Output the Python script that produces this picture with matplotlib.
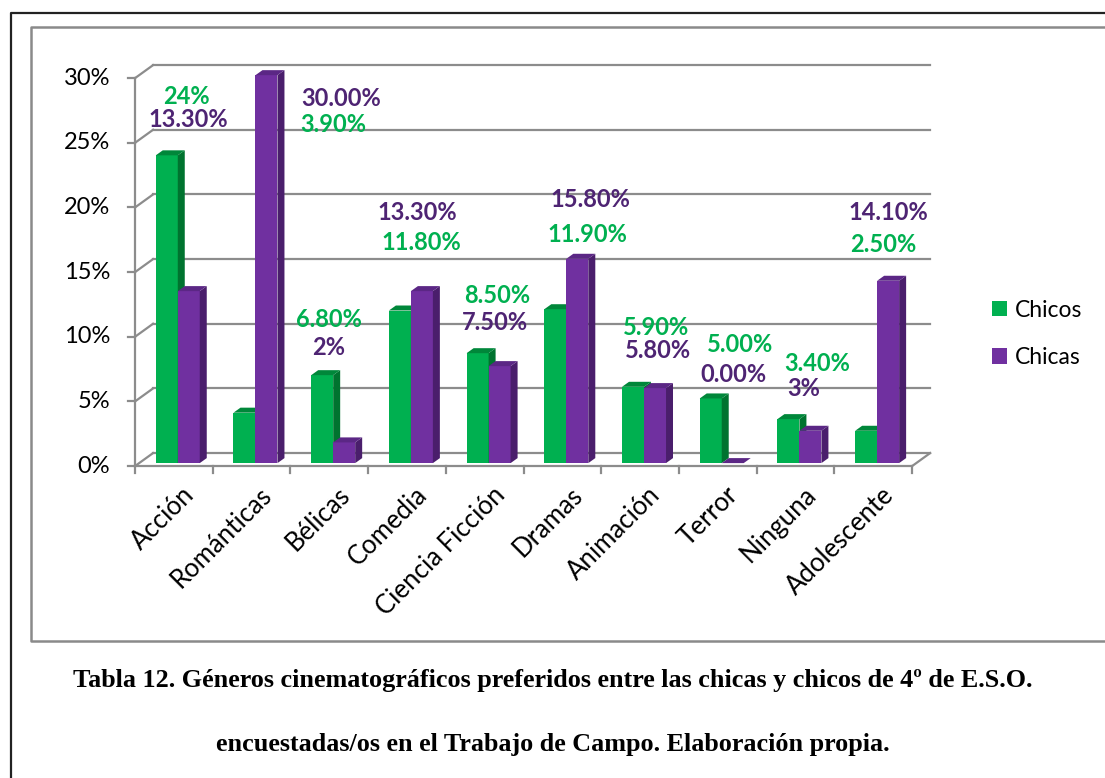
import matplotlib
matplotlib.use("Agg")
import matplotlib.pyplot as plt
from matplotlib.patches import Polygon, Patch
from matplotlib.lines import Line2D

plt.rcParams['font.family'] = ['Lato', 'DejaVu Sans']

# data
generos = ['Acción', 'Románticas', 'Bélicas', 'Comedia', 'Ciencia Ficción',
           'Dramas', 'Animación', 'Terror', 'Ninguna', 'Adolescente']
chicos = [23.8, 3.9, 6.8, 11.8, 8.5, 11.9, 5.9, 5.0, 3.4, 2.5]
chicas = [13.3, 30.0, 1.6, 13.3, 7.5, 15.8, 5.8, 0.0, 2.5, 14.1]
chicos_txt = ['24%', '3.90%', '6.80%', '11.80%', '8.50%', '11.90%', '5.90%', '5.00%', '3.40%', '2.50%']
chicas_txt = ['13.30%', '30.00%', '2%', '13.30%', '7.50%', '15.80%', '5.80%', '0.00%', '3%', '14.10%']
yticks = [0, 5, 10, 15, 20, 25, 30]

# where excel dropped the data labels (x in categories, y in %)
chicos_lab_pos = [(0.66, 28.6), (2.55, 26.4), (2.49, 11.3), (3.68, 17.3), (4.66, 13.2),
                  (5.82, 17.9), (6.7, 10.7), (7.78, 9.4), (8.78, 7.9), (9.63, 17.1)]
chicas_lab_pos = [(0.68, 26.8), (2.65, 28.4), (2.49, 9.2), (3.63, 19.6), (4.63, 11.1),
                  (5.86, 20.6), (6.73, 8.9), (7.7, 7.1), (8.6, 6.0), (9.69, 19.6)]

verde, verde_lado, verde_top = '#00B050', '#00732F', '#00873A'
morado, morado_lado, morado_top = '#7030A0', '#4A1E6C', '#5B2785'
verde_lab, morado_lab = '#00B050', '#4E2473'
gris = '#8C8C8C'

fig = plt.figure(figsize=(11.05, 7.78), dpi=100)
# axes placed so that category 0..10 -> 135..912 px and 0..30% -> 466..78 px
ax = fig.add_axes([0.1011, 0.376, 0.7595, 0.5485])
ax.set_xlim(-0.3, 10.5)
ax.set_ylim(-1.5, 31.5)
ax.axis('off')

# 3d offsets
wx, wy = 0.232, 1.005      # back wall
ox, oy = 0.05, 0.23        # plane of bar fronts
dx, dy = 0.09, 0.387       # bar depth
bw = 0.283

# walls and floor
for v in yticks:
    ax.plot([wx, 10 + wx], [v + wy, v + wy], color=gris, lw=1.6, zorder=1)
    ax.plot([0, wx], [v, v + wy], color=gris, lw=1.6, zorder=1)
    ax.plot([-0.09, 0], [v, v], color=gris, lw=1.6, zorder=1)
    ax.text(-0.32, v, f'{v}%', ha='right', va='center', fontsize=17, color='black')
ax.plot([0, 0], [0, 30], color=gris, lw=1.6, zorder=1)
ax.plot([0, 10], [0, 0], color=gris, lw=1.6, zorder=1)
ax.plot([10, 10 + wx], [0, wy], color=gris, lw=1.6, zorder=1)
for i in range(11):
    ax.plot([i, i], [0, -0.54], color=gris, lw=1.6, zorder=1)


def barra(x0, h, c_front, c_side, c_top, z):
    y0 = oy
    ax.add_patch(Polygon([(x0, y0), (x0 + bw, y0), (x0 + bw, y0 + h), (x0, y0 + h)],
                         closed=True, fc=c_front, ec='none', zorder=z))
    ax.add_patch(Polygon([(x0 + bw, y0), (x0 + bw + dx, y0 + dy), (x0 + bw + dx, y0 + h + dy),
                          (x0 + bw, y0 + h)], closed=True, fc=c_side, ec='none', zorder=z))
    ax.add_patch(Polygon([(x0, y0 + h), (x0 + bw, y0 + h), (x0 + bw + dx, y0 + h + dy),
                          (x0 + dx, y0 + h + dy)], closed=True, fc=c_top, ec='none', zorder=z))


z = 2
for i in range(len(generos)):
    c = i + 0.5 + ox
    barra(c - bw, chicos[i], verde, verde_lado, verde_top, z)
    barra(c, chicas[i], morado, morado_lado, morado_top, z + 1)
    z += 2

for i in range(len(generos)):
    ax.text(*chicos_lab_pos[i], chicos_txt[i], ha='center', va='center', fontsize=17,
            fontweight='bold', color=verde_lab, zorder=40)
    ax.text(*chicas_lab_pos[i], chicas_txt[i], ha='center', va='center', fontsize=17,
            fontweight='bold', color=morado_lab, zorder=40)
    ax.text(i + 0.6, -1.25, generos[i], rotation=45, ha='right', va='top',
            rotation_mode='anchor', fontsize=18.5, color='black')

handles = [Patch(fc=verde, ec='none'), Patch(fc=morado, ec='none')]
fig.legend(handles, ['Chicos', 'Chicas'], loc='center left', bbox_to_anchor=(0.887, 0.571),
           frameon=False, fontsize=16.5, handlelength=0.66, handleheight=0.66,
           handletextpad=0.35, labelspacing=1.15, borderpad=0)

# frames round the chart and the page
W, H = 1105, 778
def fline(xs, ys, color, lw):
    fig.add_artist(Line2D([x / W for x in xs], [1 - y / H for y in ys], color=color, lw=lw))

fline([11, 11, 1110], [780, 12.7, 12.7], '#222222', 1.6)
fline([1110, 31, 31, 1110], [27, 27, 641, 641], '#8A8A8A', 1.8)

fig.text(0.5, 1 - 680 / H, 'Tabla 12. Géneros cinematográficos preferidos entre las chicas y chicos de 4º de E.S.O.',
         ha='center', va='center', fontsize=18.8, fontweight='bold', family='Liberation Serif')
fig.text(0.5, 1 - 745 / H, 'encuestadas/os en el Trabajo de Campo. Elaboración propia.',
         ha='center', va='center', fontsize=18.8, fontweight='bold', family='Liberation Serif')

fig.savefig('out.png', dpi=100)
